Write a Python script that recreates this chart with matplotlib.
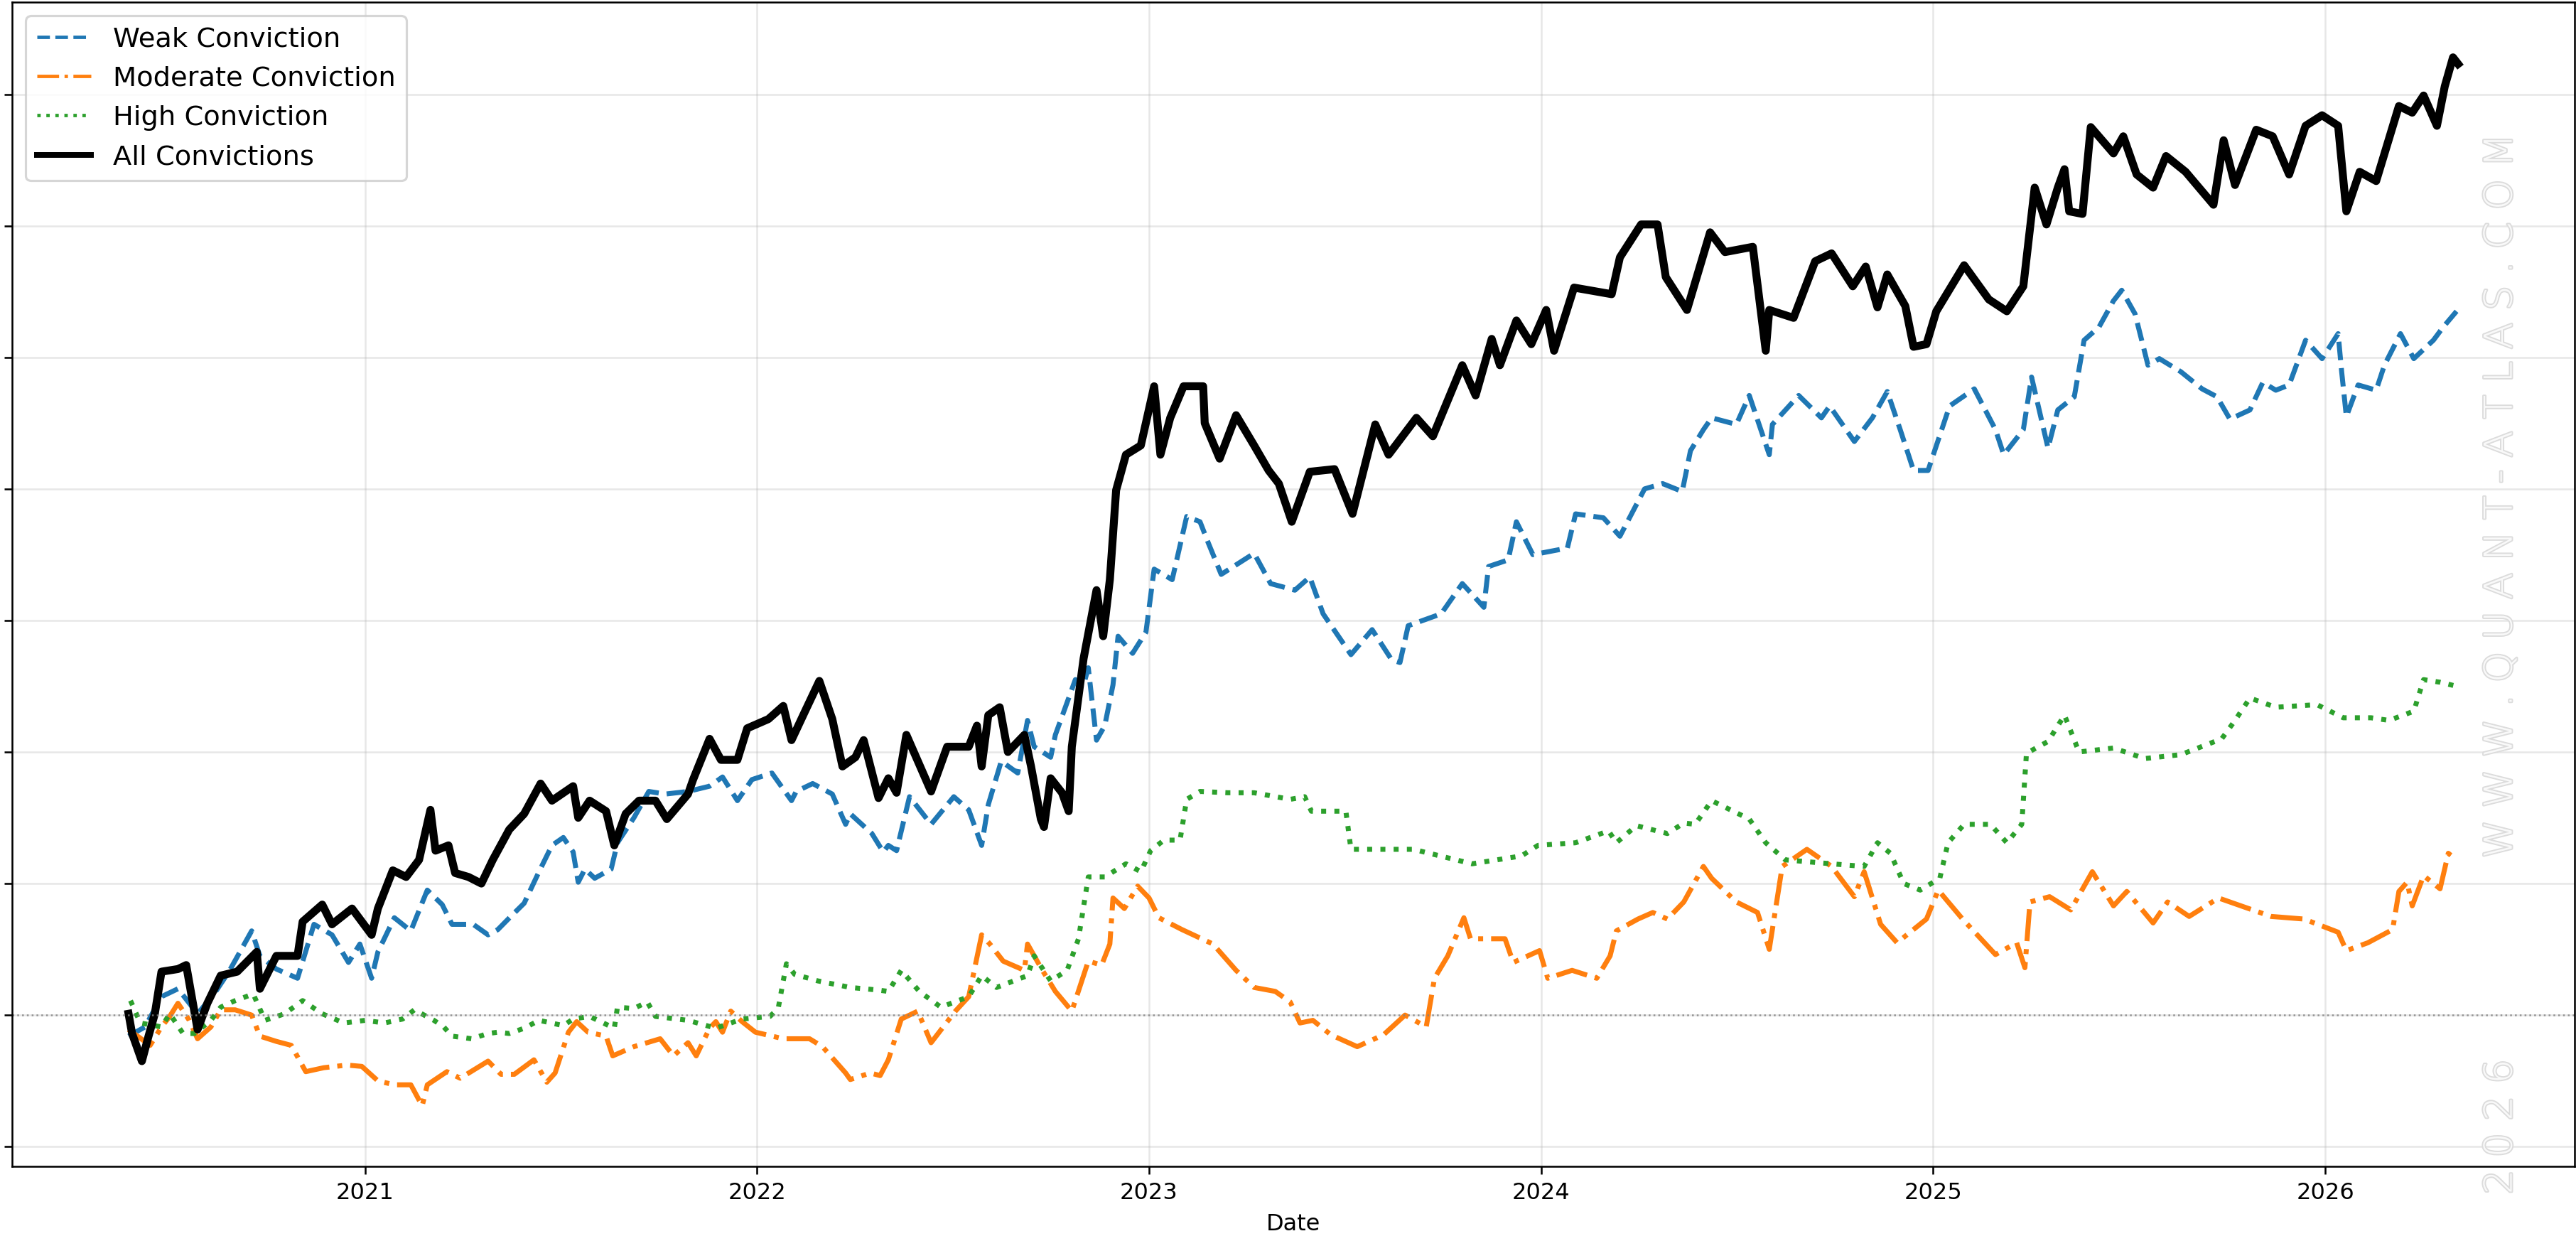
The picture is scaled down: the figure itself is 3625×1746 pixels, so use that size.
import matplotlib
matplotlib.use("Agg")
from matplotlib import pyplot as plt
import matplotlib.patheffects as pe

# Cumulative performance by conviction bucket (decimal year)
weak_t = [2020.397, 2020.439, 2020.481, 2020.523, 2020.573, 2020.615, 2020.653, 2020.711, 2020.732, 2020.774,
          2020.828, 2020.870, 2020.916, 2020.958, 2020.987, 2021.017, 2021.033, 2021.075, 2021.117, 2021.159,
          2021.197, 2021.222, 2021.276, 2021.314, 2021.339, 2021.372, 2021.406, 2021.444, 2021.477, 2021.506,
          2021.531, 2021.544, 2021.561, 2021.586, 2021.628, 2021.644, 2021.686, 2021.724, 2021.766, 2021.824,
          2021.879, 2021.912, 2021.950, 2021.987, 2022.038, 2022.088, 2022.100, 2022.142, 2022.192, 2022.226,
          2022.238, 2022.293, 2022.322, 2022.335, 2022.356, 2022.389, 2022.444, 2022.502, 2022.540, 2022.573,
          2022.590, 2022.623, 2022.665, 2022.690, 2022.707, 2022.749, 2022.761, 2022.812, 2022.833, 2022.845,
          2022.866, 2022.887, 2022.908, 2022.921, 2022.958, 2022.992, 2023.013, 2023.059, 2023.096, 2023.130,
          2023.151, 2023.184, 2023.268, 2023.310, 2023.372, 2023.410, 2023.444, 2023.515, 2023.569, 2023.619,
          2023.640, 2023.661, 2023.745, 2023.799, 2023.854, 2023.866, 2023.916, 2023.937, 2023.979, 2024.067,
          2024.088, 2024.159, 2024.201, 2024.264, 2024.310, 2024.360, 2024.381, 2024.414, 2024.435, 2024.498,
          2024.531, 2024.582, 2024.590, 2024.657, 2024.715, 2024.736, 2024.799, 2024.845, 2024.883, 2024.916,
          2024.950, 2024.987, 2025.042, 2025.105, 2025.159, 2025.180, 2025.230, 2025.251, 2025.293, 2025.318,
          2025.360, 2025.385, 2025.423, 2025.460, 2025.481, 2025.515, 2025.548, 2025.577, 2025.632, 2025.686,
          2025.724, 2025.757, 2025.808, 2025.841, 2025.874, 2025.908, 2025.950, 2025.992, 2026.033, 2026.042,
          2026.054, 2026.084, 2026.130, 2026.151, 2026.192, 2026.226, 2026.276, 2026.301, 2026.335]
weak_v = [-0.16, -0.09, 0.14, 0.20, 0.01, 0.16, 0.33, 0.64, 0.45, 0.35,
          0.28, 0.69, 0.61, 0.40, 0.54, 0.28, 0.48, 0.74, 0.64, 0.95,
          0.84, 0.69, 0.69, 0.61, 0.65, 0.75, 0.85, 1.09, 1.29, 1.35,
          1.24, 1.01, 1.11, 1.04, 1.11, 1.31, 1.50, 1.70, 1.68, 1.70,
          1.74, 1.81, 1.63, 1.79, 1.84, 1.63, 1.70, 1.76, 1.68, 1.45,
          1.53, 1.38, 1.24, 1.29, 1.25, 1.66, 1.45, 1.66, 1.56, 1.29,
          1.60, 1.93, 1.84, 2.24, 2.04, 1.96, 2.13, 2.55, 2.51, 2.64,
          2.09, 2.20, 2.51, 2.88, 2.75, 2.91, 3.39, 3.31, 3.79, 3.75,
          3.59, 3.35, 3.51, 3.28, 3.23, 3.33, 3.05, 2.74, 2.93, 2.70,
          2.68, 2.96, 3.05, 3.28, 3.10, 3.41, 3.46, 3.75, 3.50, 3.55,
          3.81, 3.78, 3.64, 4.00, 4.04, 3.98, 4.29, 4.45, 4.54, 4.49,
          4.71, 4.26, 4.49, 4.71, 4.54, 4.63, 4.36, 4.54, 4.74, 4.45,
          4.14, 4.14, 4.63, 4.76, 4.45, 4.26, 4.45, 4.85, 4.31, 4.60,
          4.70, 5.13, 5.23, 5.43, 5.51, 5.33, 4.94, 4.99, 4.89, 4.76,
          4.70, 4.53, 4.60, 4.81, 4.75, 4.79, 5.13, 4.99, 5.18, 4.89,
          4.55, 4.79, 4.75, 4.94, 5.18, 4.99, 5.13, 5.23, 5.35]

moderate_t = [2020.397, 2020.452, 2020.481, 2020.502, 2020.523, 2020.552, 2020.573, 2020.607, 2020.632, 2020.669,
              2020.711, 2020.732, 2020.774, 2020.812, 2020.849, 2020.895, 2020.954, 2020.992, 2021.033, 2021.075,
              2021.117, 2021.146, 2021.159, 2021.209, 2021.243, 2021.314, 2021.347, 2021.381, 2021.431, 2021.464,
              2021.485, 2021.519, 2021.540, 2021.569, 2021.615, 2021.632, 2021.686, 2021.753, 2021.787, 2021.824,
              2021.845, 2021.879, 2021.895, 2021.912, 2021.933, 2021.962, 2021.996, 2022.067, 2022.134, 2022.167,
              2022.226, 2022.238, 2022.289, 2022.314, 2022.335, 2022.368, 2022.410, 2022.444, 2022.506, 2022.540,
              2022.573, 2022.594, 2022.628, 2022.682, 2022.690, 2022.728, 2022.761, 2022.803, 2022.845, 2022.879,
              2022.900, 2022.908, 2022.937, 2022.971, 2023.000, 2023.025, 2023.084, 2023.163, 2023.222, 2023.268,
              2023.322, 2023.360, 2023.385, 2023.418, 2023.464, 2023.531, 2023.598, 2023.653, 2023.707, 2023.728,
              2023.762, 2023.803, 2023.820, 2023.858, 2023.908, 2023.929, 2023.996, 2024.017, 2024.079, 2024.142,
              2024.176, 2024.192, 2024.247, 2024.285, 2024.322, 2024.364, 2024.414, 2024.435, 2024.498, 2024.552,
              2024.582, 2024.615, 2024.678, 2024.741, 2024.799, 2024.824, 2024.866, 2024.908, 2024.983, 2025.013,
              2025.075, 2025.159, 2025.213, 2025.234, 2025.247, 2025.297, 2025.351, 2025.406, 2025.460, 2025.494,
              2025.561, 2025.598, 2025.653, 2025.728, 2025.862, 2025.946, 2026.033, 2026.054, 2026.109, 2026.172,
              2026.188, 2026.209, 2026.222, 2026.251, 2026.293, 2026.314, 2026.335]
moderate_v = [-0.11, -0.23, -0.09, -0.01, 0.09, -0.04, -0.18, -0.09, 0.04, 0.04,
              0.00, -0.16, -0.20, -0.23, -0.43, -0.40, -0.38, -0.39, -0.50, -0.53,
              -0.53, -0.69, -0.53, -0.43, -0.48, -0.35, -0.45, -0.45, -0.34, -0.51,
              -0.44, -0.13, -0.05, -0.13, -0.16, -0.31, -0.24, -0.18, -0.31, -0.21,
              -0.31, -0.10, -0.05, -0.13, 0.03, -0.05, -0.13, -0.18, -0.18, -0.24,
              -0.44, -0.49, -0.44, -0.46, -0.34, -0.03, 0.03, -0.21, 0.03, 0.14,
              0.61, 0.54, 0.41, 0.34, 0.54, 0.34, 0.18, 0.03, 0.41, 0.38,
              0.54, 0.89, 0.81, 0.98, 0.89, 0.74, 0.65, 0.54, 0.34, 0.21,
              0.18, 0.10, -0.06, -0.04, -0.15, -0.24, -0.15, 0.00, -0.09, 0.28,
              0.45, 0.74, 0.58, 0.58, 0.58, 0.40, 0.49, 0.28, 0.34, 0.28,
              0.45, 0.64, 0.73, 0.78, 0.73, 0.86, 1.13, 1.04, 0.86, 0.78,
              0.50, 1.13, 1.26, 1.13, 0.90, 1.09, 0.69, 0.55, 0.73, 0.95,
              0.73, 0.46, 0.55, 0.36, 0.86, 0.90, 0.80, 1.09, 0.83, 0.94,
              0.70, 0.86, 0.75, 0.89, 0.75, 0.73, 0.63, 0.49, 0.55, 0.65,
              0.94, 1.01, 0.83, 1.06, 0.96, 1.23, 1.18]

high_t = [2020.402, 2020.427, 2020.481, 2020.502, 2020.536, 2020.565, 2020.607, 2020.632, 2020.669, 2020.715,
          2020.745, 2020.795, 2020.841, 2020.891, 2020.946, 2021.000, 2021.050, 2021.096, 2021.126, 2021.176,
          2021.201, 2021.222, 2021.272, 2021.314, 2021.339, 2021.368, 2021.406, 2021.444, 2021.506, 2021.531,
          2021.573, 2021.636, 2021.644, 2021.686, 2021.720, 2021.741, 2021.824, 2021.895, 2021.962, 2022.033,
          2022.054, 2022.075, 2022.096, 2022.155, 2022.238, 2022.310, 2022.335, 2022.368, 2022.414, 2022.469,
          2022.540, 2022.573, 2022.611, 2022.690, 2022.707, 2022.749, 2022.791, 2022.820, 2022.845, 2022.887,
          2022.941, 2022.979, 2023.004, 2023.038, 2023.079, 2023.096, 2023.130, 2023.201, 2023.268, 2023.360,
          2023.397, 2023.414, 2023.502, 2023.515, 2023.674, 2023.824, 2023.950, 2023.992, 2024.088, 2024.172,
          2024.192, 2024.243, 2024.322, 2024.364, 2024.393, 2024.435, 2024.531, 2024.573, 2024.623, 2024.741,
          2024.824, 2024.858, 2024.891, 2024.925, 2024.967, 2025.017, 2025.038, 2025.079, 2025.146, 2025.188,
          2025.226, 2025.238, 2025.293, 2025.335, 2025.372, 2025.460, 2025.540, 2025.632, 2025.736, 2025.770,
          2025.808, 2025.874, 2025.979, 2026.046, 2026.117, 2026.163, 2026.226, 2026.251, 2026.293, 2026.335]
high_v = [0.11, -0.06, -0.09, 0.01, -0.14, -0.14, -0.04, 0.06, 0.11, 0.16,
          -0.04, 0.01, 0.11, 0.01, -0.06, -0.04, -0.06, -0.03, 0.04, -0.04,
          -0.09, -0.16, -0.18, -0.14, -0.13, -0.14, -0.10, -0.04, -0.08, -0.03,
          -0.01, -0.10, 0.06, 0.05, 0.10, -0.01, -0.04, -0.10, -0.03, -0.01,
          0.05, 0.39, 0.31, 0.26, 0.21, 0.19, 0.18, 0.34, 0.18, 0.06,
          0.14, 0.30, 0.21, 0.30, 0.45, 0.26, 0.34, 0.58, 1.05, 1.05,
          1.15, 1.09, 1.25, 1.33, 1.33, 1.64, 1.70, 1.69, 1.69, 1.64,
          1.66, 1.55, 1.55, 1.26, 1.26, 1.15, 1.21, 1.29, 1.31, 1.40,
          1.31, 1.44, 1.38, 1.46, 1.45, 1.63, 1.49, 1.31, 1.18, 1.15,
          1.13, 1.31, 1.23, 1.00, 0.95, 1.04, 1.31, 1.45, 1.45, 1.31,
          1.45, 1.99, 2.08, 2.28, 2.00, 2.03, 1.95, 1.98, 2.10, 2.24,
          2.41, 2.34, 2.36, 2.26, 2.26, 2.24, 2.31, 2.55, 2.53, 2.50]

all_t = [2020.397, 2020.406, 2020.431, 2020.448, 2020.464, 2020.481, 2020.523, 2020.544, 2020.573, 2020.598,
         2020.632, 2020.674, 2020.724, 2020.732, 2020.774, 2020.828, 2020.841, 2020.891, 2020.916, 2020.967,
         2021.017, 2021.033, 2021.071, 2021.105, 2021.138, 2021.167, 2021.180, 2021.213, 2021.230, 2021.264,
         2021.297, 2021.326, 2021.368, 2021.406, 2021.448, 2021.477, 2021.531, 2021.544, 2021.573, 2021.615,
         2021.636, 2021.665, 2021.699, 2021.741, 2021.770, 2021.824, 2021.837, 2021.879, 2021.908, 2021.950,
         2021.975, 2022.029, 2022.067, 2022.088, 2022.121, 2022.159, 2022.192, 2022.218, 2022.251, 2022.272,
         2022.310, 2022.335, 2022.356, 2022.381, 2022.444, 2022.485, 2022.540, 2022.561, 2022.573, 2022.590,
         2022.619, 2022.640, 2022.682, 2022.699, 2022.724, 2022.732, 2022.749, 2022.778, 2022.795, 2022.803,
         2022.833, 2022.866, 2022.883, 2022.900, 2022.916, 2022.941, 2022.979, 2023.013, 2023.029, 2023.054,
         2023.088, 2023.138, 2023.142, 2023.180, 2023.222, 2023.268, 2023.305, 2023.331, 2023.364, 2023.410,
         2023.473, 2023.519, 2023.577, 2023.611, 2023.682, 2023.724, 2023.799, 2023.833, 2023.874, 2023.895,
         2023.937, 2023.975, 2024.013, 2024.033, 2024.084, 2024.180, 2024.201, 2024.255, 2024.297, 2024.318,
         2024.372, 2024.406, 2024.431, 2024.469, 2024.540, 2024.573, 2024.582, 2024.644, 2024.699, 2024.741,
         2024.795, 2024.828, 2024.858, 2024.883, 2024.929, 2024.950, 2024.983, 2025.008, 2025.079, 2025.142,
         2025.188, 2025.230, 2025.247, 2025.259, 2025.289, 2025.318, 2025.335, 2025.347, 2025.381, 2025.402,
         2025.460, 2025.485, 2025.519, 2025.561, 2025.594, 2025.644, 2025.715, 2025.741, 2025.770, 2025.824,
         2025.866, 2025.908, 2025.950, 2025.992, 2026.033, 2026.054, 2026.088, 2026.130, 2026.188, 2026.222,
         2026.251, 2026.285, 2026.305, 2026.326, 2026.339]
all_v = [0.01, -0.14, -0.35, -0.16, 0.01, 0.33, 0.35, 0.38, -0.11, 0.09,
         0.30, 0.33, 0.48, 0.20, 0.45, 0.45, 0.71, 0.84, 0.69, 0.81,
         0.61, 0.81, 1.10, 1.05, 1.18, 1.56, 1.25, 1.29, 1.08, 1.05,
         1.00, 1.18, 1.41, 1.53, 1.76, 1.63, 1.74, 1.50, 1.63, 1.55,
         1.29, 1.53, 1.63, 1.63, 1.49, 1.68, 1.79, 2.10, 1.94, 1.94,
         2.18, 2.25, 2.35, 2.09, 2.30, 2.54, 2.25, 1.89, 1.96, 2.09,
         1.65, 1.80, 1.69, 2.13, 1.70, 2.04, 2.04, 2.20, 1.89, 2.28,
         2.34, 2.00, 2.13, 1.89, 1.49, 1.43, 1.80, 1.69, 1.55, 2.04,
         2.71, 3.23, 2.88, 3.31, 3.99, 4.26, 4.33, 4.78, 4.26, 4.54,
         4.78, 4.78, 4.50, 4.23, 4.56, 4.33, 4.14, 4.04, 3.75, 4.13,
         4.15, 3.81, 4.49, 4.26, 4.54, 4.40, 4.94, 4.71, 5.14, 4.94,
         5.28, 5.10, 5.36, 5.05, 5.53, 5.48, 5.76, 6.01, 6.01, 5.61,
         5.36, 5.70, 5.95, 5.80, 5.84, 5.05, 5.36, 5.30, 5.73, 5.79,
         5.54, 5.69, 5.38, 5.63, 5.39, 5.08, 5.10, 5.35, 5.70, 5.44,
         5.35, 5.54, 5.98, 6.29, 6.01, 6.29, 6.43, 6.11, 6.09, 6.75,
         6.55, 6.68, 6.39, 6.29, 6.53, 6.41, 6.16, 6.65, 6.31, 6.73,
         6.68, 6.39, 6.76, 6.84, 6.76, 6.11, 6.41, 6.34, 6.91, 6.86,
         6.99, 6.76, 7.06, 7.28, 7.23]

years = [2021, 2022, 2023, 2024, 2025, 2026]
yticks = [-1, 0, 1, 2, 3, 4, 5, 6, 7]

fig = plt.figure(figsize=(3625 / 230, 1746 / 230), dpi=230)
ax = fig.add_axes([17 / 3625, 105 / 1746, 3606 / 3625, 1638 / 1746])

ax.plot(weak_t, weak_v, color="tab:blue", ls="--", lw=2.2, label="Weak Conviction")
ax.plot(moderate_t, moderate_v, color="tab:orange", ls="-.", lw=2.2, label="Moderate Conviction")
ax.plot(high_t, high_v, color="tab:green", ls=":", lw=2.2, label="High Conviction")
ax.plot(all_t, all_v, color="black", ls="-", lw=3.5, label="All Convictions")
ax.axhline(0, color="grey", lw=0.8, ls=":", alpha=0.8)

ax.set_ylim(-1.15, 7.7)
ax.set_yticks(yticks)
ax.set_yticklabels([])
ax.set_xticks(years)
ax.set_xticklabels([str(y) for y in years])
ax.set_xlabel("Date")
ax.grid(alpha=0.3)

leg = ax.legend(loc="upper left", fontsize=12)
# thinner handles in the legend, like the original
for line, lw in zip(leg.get_lines(), [1.5, 1.5, 1.5, 2.5]):
    line.set_linewidth(lw)

# watermark: thin light letters with a soft grey edge
halo = [pe.withStroke(linewidth=1.2, foreground="#dcdcdc")]
fig.text(0.971, 0.60, "W W W . Q U A N T - A T L A S . C O M", rotation=90, fontsize=17,
         family="DejaVu Sans", fontweight="ultralight", color="#f9f9f9", ha="center", va="center",
         path_effects=halo)
fig.text(0.971, 0.092, "2 0 2 6", rotation=90, fontsize=17,
         family="DejaVu Sans", fontweight="ultralight", color="#f9f9f9", ha="center", va="center",
         path_effects=halo)

fig.savefig("out.png", dpi=230)
